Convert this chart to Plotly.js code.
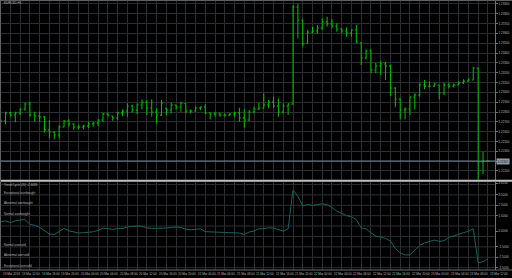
<!DOCTYPE html>
<html><head><meta charset="utf-8">
<script src="https://cdn.plot.ly/plotly-3.0.1.min.js"></script>
<style>html,body{margin:0;padding:0;background:#000;overflow:hidden}#chart{width:512px;height:278px}</style>
</head><body><div id="chart"></div>
<script>
const symbol = "EURUSD,H1";
const indicatorName = "Trend Cycle (20) -2.6683";

const open = [1.22698,1.22708,1.22790,1.22769,1.22790,1.22830,1.22881,1.22769,1.22759,1.22749,
1.22617,1.22596,1.22566,1.22647,1.22708,1.22678,1.22647,1.22647,1.22657,1.22678,
1.22688,1.22718,1.22780,1.22759,1.22739,1.22790,1.22810,1.22861,1.22820,1.22871,
1.22902,1.22841,1.22800,1.22769,1.22838,1.22820,1.22871,1.22851,1.22888,1.22810,
1.22810,1.22841,1.22851,1.22793,1.22780,1.22780,1.22769,1.22769,1.22780,1.22790,
1.22739,1.22718,1.22800,1.22830,1.22841,1.22871,1.22902,1.22861,1.22800,1.22861,
1.22881,1.23869,1.23736,1.23499,1.23614,1.23624,1.23655,1.23716,1.23696,1.23675,
1.23645,1.23624,1.23604,1.23635,1.23505,1.23350,1.23421,1.23227,1.23268,1.23289,
1.23268,1.23044,1.22932,1.22820,1.22830,1.22953,1.22973,1.23075,1.23064,1.23064,
1.23075,1.22993,1.23075,1.23064,1.23075,1.23095,1.23115,1.23126,1.23248,1.22291,1.22301];
const high = [1.22729,1.22803,1.22803,1.22803,1.22838,1.22895,1.22905,1.22803,1.22803,1.22759,
1.22718,1.22606,1.22668,1.22718,1.22726,1.22685,1.22668,1.22668,1.22701,1.22701,
1.22726,1.22793,1.22793,1.22759,1.22803,1.22827,1.22888,1.22871,1.22888,1.22929,
1.22922,1.22929,1.22838,1.22922,1.22838,1.22895,1.22871,1.22905,1.22888,1.22827,
1.22854,1.22854,1.22881,1.22793,1.22803,1.22793,1.22787,1.22787,1.22803,1.22844,
1.22827,1.22820,1.22854,1.22895,1.22990,1.22922,1.22956,1.22939,1.22888,1.22888,
1.23889,1.23899,1.23736,1.23635,1.23668,1.23686,1.23754,1.23770,1.23744,1.23703,
1.23652,1.23662,1.23642,1.23686,1.23505,1.23438,1.23438,1.23302,1.23319,1.23312,
1.23278,1.23051,1.22939,1.22848,1.22956,1.22990,1.23098,1.23126,1.23108,1.23098,
1.23075,1.23098,1.23098,1.23092,1.23115,1.23133,1.23143,1.23261,1.23251,1.22396,1.22304];
const low = [1.22688,1.22675,1.22752,1.22695,1.22769,1.22813,1.22752,1.22701,1.22701,1.22589,
1.22532,1.22522,1.22532,1.22645,1.22650,1.22617,1.22624,1.22624,1.22634,1.22650,
1.22657,1.22701,1.22752,1.22711,1.22718,1.22759,1.22752,1.22793,1.22780,1.22827,
1.22769,1.22752,1.22685,1.22759,1.22769,1.22787,1.22827,1.22803,1.22787,1.22787,
1.22803,1.22820,1.22780,1.22726,1.22752,1.22752,1.22752,1.22759,1.22752,1.22701,
1.22640,1.22710,1.22787,1.22820,1.22835,1.22838,1.22838,1.22752,1.22787,1.22769,
1.22875,1.23550,1.23465,1.23499,1.23601,1.23594,1.23635,1.23668,1.23652,1.23617,
1.23601,1.23566,1.23566,1.23499,1.23278,1.23336,1.23194,1.23194,1.23177,1.23126,
1.22963,1.22848,1.22726,1.22726,1.22769,1.22827,1.22956,1.23031,1.23051,1.23057,
1.22929,1.22973,1.23041,1.23051,1.23075,1.23085,1.23108,1.23126,1.22115,1.22169,1.22291];
const close = [1.22708,1.22790,1.22769,1.22790,1.22830,1.22881,1.22769,1.22759,1.22749,1.22617,
1.22596,1.22566,1.22647,1.22708,1.22678,1.22647,1.22647,1.22657,1.22678,1.22688,
1.22718,1.22780,1.22769,1.22739,1.22790,1.22810,1.22861,1.22820,1.22871,1.22902,
1.22841,1.22800,1.22769,1.22892,1.22820,1.22871,1.22851,1.22892,1.22810,1.22810,
1.22841,1.22851,1.22790,1.22780,1.22780,1.22769,1.22769,1.22780,1.22790,1.22739,
1.22718,1.22800,1.22830,1.22841,1.22871,1.22902,1.22861,1.22800,1.22861,1.22881,
1.23869,1.23736,1.23492,1.23614,1.23624,1.23655,1.23716,1.23696,1.23675,1.23645,
1.23624,1.23604,1.23635,1.23512,1.23350,1.23421,1.23227,1.23268,1.23289,1.23268,
1.23044,1.22932,1.22820,1.22830,1.22953,1.22973,1.23075,1.23064,1.23064,1.23085,
1.22993,1.23075,1.23064,1.23075,1.23095,1.23115,1.23126,1.23248,1.22291,1.22301,1.22301];

const trendCycle = [0.94,0.99,0.82,1.00,1.08,1.13,0.66,0.57,0.37,0.09,
-0.26,-0.31,0.02,0.27,0.04,-0.09,-0.17,-0.14,-0.10,-0.05,
0.08,0.29,0.25,0.17,0.28,0.26,0.41,0.48,0.50,0.49,
0.32,0.27,0.28,0.25,0.31,0.37,0.41,0.37,0.19,0.14,
0.22,0.23,-0.04,-0.04,-0.07,-0.10,-0.12,-0.14,-0.15,-0.17,
-0.32,-0.07,0.01,0.25,0.23,0.34,0.31,0.16,0.00,0.24,
3.97,3.36,2.43,2.57,2.48,2.57,2.64,2.54,2.28,1.93,
1.75,1.50,1.40,1.11,0.33,0.22,-0.14,-0.48,-0.57,-0.68,
-0.94,-1.67,-2.07,-2.28,-2.28,-1.80,-1.35,-1.13,-0.98,-0.85,
-0.97,-0.91,-0.58,-0.47,-0.30,-0.13,-0.01,0.25,-3.05,-2.91,-2.67];

const timeLabelBars = [0,4,8,12,16,20,24,28,32,36,40,44,48,52,56,60,64,68,72,76,80,84,88,92,96,100];
const timeLabels = ["19 Mar 2018","19 Mar 12:00","19 Mar 16:00","19 Mar 20:00","20 Mar 00:00","20 Mar 04:00",
"20 Mar 08:00","20 Mar 12:00","20 Mar 16:00","20 Mar 20:00","21 Mar 00:00","21 Mar 04:00","21 Mar 08:00",
"21 Mar 12:00","21 Mar 16:00","21 Mar 20:00","22 Mar 00:00","22 Mar 04:00","22 Mar 08:00","22 Mar 12:00",
"22 Mar 16:00","22 Mar 20:00","23 Mar 00:00","23 Mar 04:00","23 Mar 08:00","23 Mar 12:00"];

const priceTicks = [1.239,1.238,1.237,1.236,1.235,1.234,1.233,1.232,1.231,1.230,1.229,1.228,1.227,1.226,1.225,1.224,1.223,1.222];
const bidPrice = 1.22301;

const indTicks = [4.61,3.5,2.5,1.5,0,-1.5,-2.5,-3.5];
const indGrid = [4.5,3.5,2.5,1.5,0.5,-0.5,-1.5,-2.5,-3.5];
const levelNames = ["Exceptional overbought","Abnormal overbought","Normal overbought","Normal oversold","Abnormal oversold","Exceptional oversold"];
const levelValues = [3.5,2.5,1.5,-1.5,-2.5,-3.5];

// ---- presentation ----
const W = 512, H = 278;
const py = px => 1 - px / H;
const GRID = '#2b2f33';
const TXT = '#b8b8b8';
const FS = 3;
const FONT = 'Liberation Sans Narrow, Liberation Sans, Arial, sans-serif';
const xEnd = 495 / W;
const xr = [-0.14, 101.46];
const bars = close.map((_, i) => i);

const traces = [
  {type:'ohlc', x:bars, open:open, high:high, low:low, close:close, xaxis:'x', yaxis:'y',
   increasing:{line:{color:'#00c000', width:1}}, decreasing:{line:{color:'#00c000', width:1}},
   tickwidth:0.3, hoverinfo:'skip', showlegend:false},
  {type:'scatter', mode:'lines', x:bars, y:trendCycle, xaxis:'x2', yaxis:'y2',
   line:{color:'#17625e', width:1}, hoverinfo:'skip', showlegend:false}
];

const shapes = [];
indGrid.forEach(v => shapes.push({type:'line', xref:'x2 domain', x0:0, x1:1, yref:'y2', y0:v, y1:v,
  line:{color:GRID, width:1}, layer:'below'}));
shapes.push({type:'line', xref:'x domain', x0:0, x1:1, yref:'y', y0:bidPrice, y1:bidPrice, line:{color:'#778899', width:1}});
shapes.push({type:'line', xref:'paper', x0:0, x1:1, yref:'paper', y0:py(180.8), y1:py(180.8), line:{color:'#c0c0c0', width:2}});
shapes.push({type:'line', xref:'paper', x0:0, x1:1, yref:'paper', y0:py(0.5), y1:py(0.5), line:{color:'#606060', width:1}});
shapes.push({type:'line', xref:'paper', x0:0, x1:1, yref:'paper', y0:py(270), y1:py(270), line:{color:'#707070', width:1}});
shapes.push({type:'line', xref:'paper', x0:0.5/W, x1:0.5/W, yref:'paper', y0:py(270), y1:py(0.5), line:{color:'#606060', width:1}});

const annotations = [];
const txt = (o) => Object.assign({showarrow:false, font:{family:FONT, size:FS, color:TXT}, xanchor:'left', yanchor:'middle'}, o);
annotations.push(txt({xref:'paper', x:2/W, yref:'paper', y:py(3.2), text:symbol}));
annotations.push(txt({xref:'paper', x:2/W, yref:'paper', y:py(185), text:indicatorName}));
levelNames.forEach((n, k) => annotations.push(txt({xref:'paper', x:2/W, yref:'y2', y:levelValues[k], yshift:2, text:n})));
timeLabelBars.forEach((b, k) => annotations.push(txt({xref:'x2', x:b, yref:'paper', y:py(274), text:timeLabels[k]})));
annotations.push({showarrow:false, xref:'paper', x:495.5/W, xanchor:'left', yref:'y', y:bidPrice, yanchor:'middle',
  text:bidPrice.toFixed(5), bgcolor:'#8e9aa6', borderpad:0.6, font:{family:FONT, size:FS, color:'#1a1a1a'}});

const axX = {domain:[0, xEnd], range:xr, showgrid:true, gridcolor:GRID, gridwidth:1, tick0:0, dtick:2,
  showticklabels:false, ticks:'', zeroline:false, showline:false, fixedrange:true};

const layout = {
  width:W, height:H, margin:{l:0, r:0, t:0, b:0},
  paper_bgcolor:'#000', plot_bgcolor:'#000', showlegend:false, hovermode:false,
  font:{family:FONT, size:FS, color:TXT},
  xaxis:Object.assign({}, axX, {anchor:'y', rangeslider:{visible:false}}),
  xaxis2:Object.assign({}, axX, {anchor:'y2'}),
  yaxis:{domain:[py(180), py(1)], range:[1.22108, 1.23930], side:'right', anchor:'x',
    tickvals:priceTicks, ticktext:priceTicks.map(v => v.toFixed(5)), tickfont:{family:FONT, size:FS, color:TXT},
    showgrid:true, gridcolor:GRID, gridwidth:1, ticks:'outside', ticklen:2, tickcolor:'#707070',
    showline:true, linecolor:'#707070', linewidth:1, zeroline:false, fixedrange:true},
  yaxis2:{domain:[py(270), py(182)], range:[-3.726, 4.736], side:'right', anchor:'x2',
    tickvals:indTicks, ticktext:indTicks.map(v => v.toFixed(4)), tickfont:{family:FONT, size:FS, color:TXT},
    showgrid:false, ticks:'outside', ticklen:2, tickcolor:'#707070',
    showline:true, linecolor:'#707070', linewidth:1, zeroline:false, fixedrange:true},
  shapes:shapes, annotations:annotations
};

Plotly.newPlot('chart', traces, layout, {staticPlot:true, displayModeBar:false});
</script>
</body></html>
